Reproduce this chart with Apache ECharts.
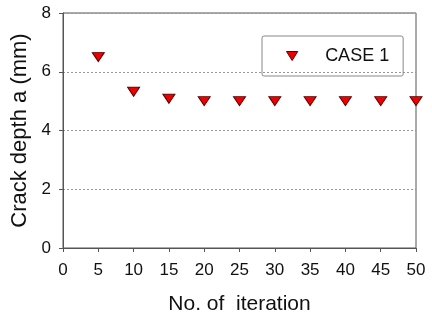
<!DOCTYPE html>
<html><head><meta charset="utf-8">
<script src="https://cdn.jsdelivr.net/npm/echarts@6/dist/echarts.min.js"></script>
<style>html,body{margin:0;padding:0;background:#fff}#c{width:432px;height:320px}</style>
</head><body><div id="c"></div>
<script>
const iterations = [5, 10, 15, 20, 25, 30, 35, 40, 45, 50];
const crackDepth = [6.5, 5.32, 5.08, 5.0, 5.0, 5.0, 5.0, 5.0, 5.0, 5.0];
const seriesName = 'CASE 1';
const xTicks = { min: 0, max: 50, interval: 5 };
const yTicks = { min: 0, max: 8, interval: 2 };

const tri = 'path://M0,0 L10,0 L5,8 Z';
const font = 'Liberation Sans, Arial, sans-serif';
const chart = echarts.init(document.getElementById('c'), null, {renderer: 'canvas'});
chart.setOption({
  animation: false,
  grid: { left: 63, right: 16, top: 13, bottom: 71, show: true, borderColor: '#555', borderWidth: 1 },
  legend: {
    data: [seriesName], left: 262, top: 36,
    padding: [11, 14, 11, 24],
    borderColor: '#888', borderWidth: 1, borderRadius: 2,
    itemWidth: 12, itemHeight: 9, icon: tri,
    itemStyle: { color: '#ee0000', borderColor: '#600000', borderWidth: 1, opacity: 1 },
    textStyle: { fontFamily: font, fontSize: 18, color: '#111', padding: [0, 0, 0, 22] }
  },
  xAxis: {
    type: 'value', min: xTicks.min, max: xTicks.max, interval: xTicks.interval,
    name: 'No. of  iteration', nameLocation: 'middle', nameGap: 46,
    nameTextStyle: { fontFamily: font, fontSize: 21, color: '#111' },
    axisLine: { onZero: false, lineStyle: { color: '#555' } },
    axisTick: { show: true, length: 4, inside: false, lineStyle: { color: '#555' } },
    axisLabel: { fontFamily: font, fontSize: 17, color: '#111', margin: 14 },
    splitLine: { show: false }
  },
  yAxis: {
    type: 'value', min: yTicks.min, max: yTicks.max, interval: yTicks.interval,
    name: 'Crack depth a (mm)', nameLocation: 'middle', nameGap: 32,
    nameTextStyle: { fontFamily: font, fontSize: 22, color: '#111' },
    axisLine: { show: true, lineStyle: { color: '#555' } },
    axisTick: { show: true, length: 4, lineStyle: { color: '#555' } },
    axisLabel: { fontFamily: font, fontSize: 17, color: '#111', margin: 12 },
    splitLine: { show: true, lineStyle: { color: '#999', type: [2, 2], width: 1 } }
  },
  series: [{
    name: seriesName, type: 'scatter',
    data: iterations.map((x, i) => [x, crackDepth[i]]),
    symbol: tri, symbolSize: [12, 9],
    itemStyle: { color: '#ee0000', borderColor: '#600000', borderWidth: 1, opacity: 1 }
  }]
});
</script></body></html>
